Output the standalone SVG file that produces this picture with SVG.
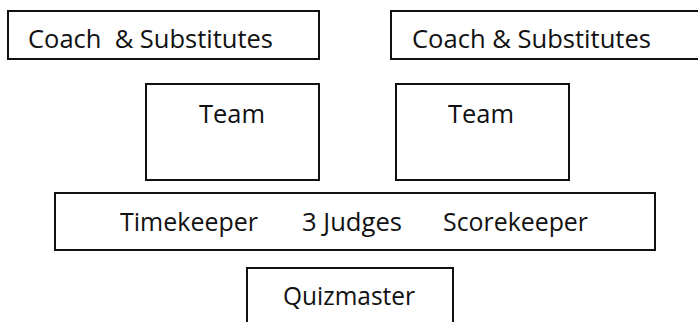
<svg xmlns="http://www.w3.org/2000/svg" width="698" height="322" viewBox="0 0 698 322">
<style>
rect.b{fill:#fff;stroke:#111;stroke-width:2}
text{font-family:"Open Sans","Noto Sans",sans-serif;font-size:26px;fill:#111;white-space:pre}
</style>
<rect width="698" height="322" fill="#fff"/>
<g id="coach-left"><rect class="b" x="8" y="11" width="311" height="48"/><text x="28" y="48" textLength="245" lengthAdjust="spacingAndGlyphs" xml:space="preserve">Coach  &amp; Substitutes</text></g>
<g id="coach-right"><rect class="b" x="391" y="11" width="310" height="48"/><text x="412" y="48" textLength="239" lengthAdjust="spacingAndGlyphs">Coach &amp; Substitutes</text></g>
<g id="team-left"><rect class="b" x="146" y="84" width="173" height="96"/><text x="199" y="123" textLength="66" lengthAdjust="spacingAndGlyphs">Team</text></g>
<g id="team-right"><rect class="b" x="396" y="84" width="173" height="96"/><text x="448" y="123" textLength="66" lengthAdjust="spacingAndGlyphs">Team</text></g>
<g id="officials"><rect class="b" x="55" y="193" width="600" height="57"/>
<text x="120" y="231" textLength="138" lengthAdjust="spacingAndGlyphs">Timekeeper</text>
<text x="302" y="231" textLength="100" lengthAdjust="spacingAndGlyphs">3 Judges</text>
<text x="443" y="231" textLength="145" lengthAdjust="spacingAndGlyphs">Scorekeeper</text></g>
<g id="quizmaster"><rect class="b" x="247" y="268" width="206" height="70"/><text x="283" y="305" textLength="132" lengthAdjust="spacingAndGlyphs">Quizmaster</text></g>
<g id="connectors"></g>
</svg>
